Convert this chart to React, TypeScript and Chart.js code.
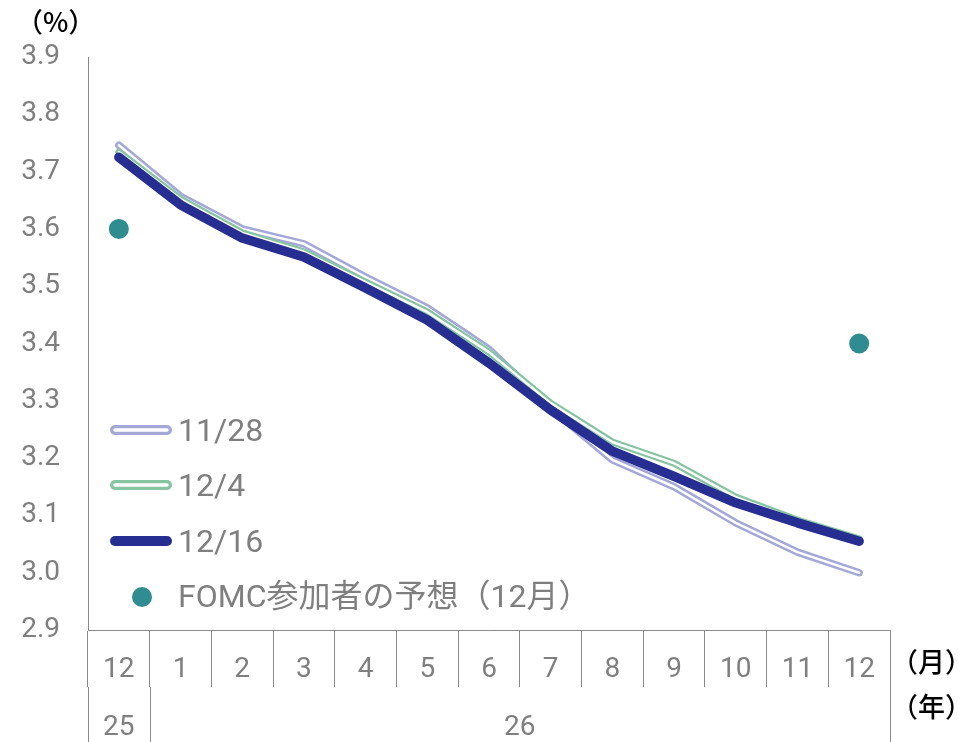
import React, { useEffect, useRef } from 'react';
import { Chart, registerables } from 'chart.js';

Chart.register(...registerables);

// ---- data ----
const months = ['12', '1', '2', '3', '4', '5', '6', '7', '8', '9', '10', '11', '12'];
const yearLabels = ['25', '26'];
const yearStarts = [0, 1];
const series1128 = [3.746, 3.657, 3.600, 3.574, 3.516, 3.462, 3.390, 3.287, 3.197, 3.150, 3.087, 3.036, 3.000];
const series124 = [3.734, 3.652, 3.593, 3.560, 3.507, 3.455, 3.385, 3.296, 3.228, 3.191, 3.132, 3.092, 3.059];
const series1216 = [3.725, 3.642, 3.584, 3.551, 3.497, 3.441, 3.366, 3.284, 3.212, 3.168, 3.122, 3.087, 3.055];
const fomc = [3.6, null, null, null, null, null, null, null, null, null, null, null, 3.4];
const seriesNames = ['11/28', '12/4', '12/16'];
const fomcName = 'FOMC参加者の予想（12月）';
const yMin = 2.9;
const yMax = 3.9;
const yStep = 0.1;
const unitY = '（%）';
const unitMonth = '（月）';
const unitYear = '（年）';

// ---- styles ----
const FONT = 'Roboto, "Noto Sans CJK JP", sans-serif';
const CJK = '"Noto Sans CJK JP", sans-serif';
const LAV = '#a3a8d6';
const GREEN = '#86c4a2';
const NAVY = '#262e92';
const TEAL = '#2f8c90';
const GRAY_TEXT = '#7f7f7f';
const AXIS = '#8a8a8a';
const MONTH_ROW = 57;

const overlayPlugin = {
  id: 'overlay',
  afterDraw(chart: any) {
    const { ctx, chartArea, scales } = chart;
    const x = scales.x;
    ctx.save();

    // year row lines
    const boundary = (i: number) =>
      i <= 0 ? x.left : i >= months.length ? x.right : (x.getPixelForValue(i - 1) + x.getPixelForValue(i)) / 2;
    const rowTop = x.top + MONTH_ROW;
    const bottom = chart.height;
    ctx.strokeStyle = AXIS;
    ctx.lineWidth = 1;
    const edges = [...yearStarts, months.length];
    edges.forEach((i) => {
      const px = Math.round(boundary(i)) + 0.5;
      ctx.beginPath();
      ctx.moveTo(px, rowTop);
      ctx.lineTo(px, bottom);
      ctx.stroke();
    });
    ctx.fillStyle = GRAY_TEXT;
    ctx.font = `28px ${FONT}`;
    ctx.textAlign = 'center';
    ctx.textBaseline = 'middle';
    yearLabels.forEach((lab, k) => {
      const a = boundary(edges[k]);
      const b = boundary(edges[k + 1]);
      ctx.fillText(lab, (a + b) / 2, x.top + 98);
    });

    // unit labels
    ctx.fillStyle = '#000';
    ctx.font = `500 27px ${CJK}`;
    ctx.textAlign = 'left';
    ctx.fillText(unitY, 16, 22);
    ctx.fillText(unitMonth, x.right + 1, x.top + 32);
    ctx.fillText(unitYear, x.right + 1, x.top + 77);

    // legend
    const lx = chartArea.left + 22;
    const lw = 62;
    const tx = chartArea.left + 90;
    const rows = [chartArea.bottom - 200, chartArea.bottom - 145, chartArea.bottom - 89, chartArea.bottom - 33];
    const samples = [
      { color: LAV, inner: true },
      { color: GREEN, inner: true },
      { color: NAVY, inner: false },
    ];
    ctx.lineCap = 'round';
    samples.forEach((s, i) => {
      const y = rows[i];
      ctx.strokeStyle = s.color;
      ctx.lineWidth = 10;
      ctx.beginPath();
      ctx.moveTo(lx + 5, y);
      ctx.lineTo(lx + lw - 5, y);
      ctx.stroke();
      if (s.inner) {
        ctx.strokeStyle = '#fff';
        ctx.lineWidth = 3.5;
        ctx.beginPath();
        ctx.moveTo(lx + 5, y);
        ctx.lineTo(lx + lw - 5, y);
        ctx.stroke();
      }
      ctx.fillStyle = GRAY_TEXT;
      ctx.font = `32px ${FONT}`;
      ctx.textAlign = 'left';
      ctx.fillText(seriesNames[i], tx, y + 3);
    });
    ctx.fillStyle = TEAL;
    ctx.beginPath();
    ctx.arc(lx + 32, rows[3], 10, 0, Math.PI * 2);
    ctx.fill();
    ctx.fillStyle = GRAY_TEXT;
    ctx.font = `32px ${FONT}`;
    ctx.fillText(fomcName, tx, rows[3] + 2);

    ctx.restore();
  },
};

export default function App() {
  const ref = useRef<HTMLCanvasElement>(null);
  useEffect(() => {
    document.body.style.margin = '0';
    const lineCommon = {
      pointRadius: 0,
      pointHoverRadius: 0,
      tension: 0,
      borderCapStyle: 'round' as const,
      borderJoinStyle: 'round' as const,
      fill: false,
    };
    const chart = new Chart(ref.current as HTMLCanvasElement, {
      type: 'line',
      data: {
        labels: months,
        datasets: [
          { ...lineCommon, label: seriesNames[2], data: series1216, borderColor: NAVY, borderWidth: 9.5, order: 1 },
          { ...lineCommon, label: seriesNames[1], data: series124, borderColor: GREEN, borderWidth: 7, order: 3 },
          { ...lineCommon, label: seriesNames[1] + ' inner', data: series124, borderColor: '#ffffff', borderWidth: 2.5, order: 2 },
          { ...lineCommon, label: seriesNames[0], data: series1128, borderColor: LAV, borderWidth: 7.5, order: 5 },
          { ...lineCommon, label: seriesNames[0] + ' inner', data: series1128, borderColor: '#ffffff', borderWidth: 2.5, order: 4 },
          {
            label: fomcName,
            data: fomc as any,
            showLine: false,
            pointRadius: 10,
            pointHoverRadius: 10,
            pointBackgroundColor: TEAL,
            pointBorderWidth: 0,
            backgroundColor: TEAL,
            borderColor: TEAL,
            order: 0,
          },
        ],
      },
      options: {
        animation: false,
        responsive: false,
        devicePixelRatio: 1,
        layout: { padding: { top: 57, right: 81, left: 0, bottom: 0 } },
        plugins: { legend: { display: false }, tooltip: { enabled: false } },
        scales: {
          x: {
            type: 'category',
            offset: true,
            grid: {
              display: true,
              offset: true,
              drawOnChartArea: false,
              drawTicks: true,
              tickLength: MONTH_ROW,
              color: AXIS,
              lineWidth: 1,
            },
            border: { display: true, color: AXIS, width: 1 },
            ticks: {
              color: GRAY_TEXT,
              font: { family: FONT, size: 28 },
              padding: -34,
              maxRotation: 0,
              autoSkip: false,
            },
            afterFit: (s: any) => {
              s.height = 112;
            },
          },
          y: {
            min: yMin,
            max: yMax,
            grid: { display: true, drawOnChartArea: false, drawTicks: false },
            border: { display: true, color: AXIS, width: 1 },
            ticks: {
              stepSize: yStep,
              color: GRAY_TEXT,
              font: { family: FONT, size: 28 },
              padding: 28,
              callback: (v: any) => Number(v).toFixed(1),
            },
            afterFit: (s: any) => {
              s.width = 88;
            },
          },
        },
      },
      plugins: [overlayPlugin],
    });
    return () => chart.destroy();
  }, []);
  return (
    <div style={{ width: 971, height: 742 }}>
      <canvas ref={ref} width={971} height={742} style={{ display: 'block' }} />
    </div>
  );
}
